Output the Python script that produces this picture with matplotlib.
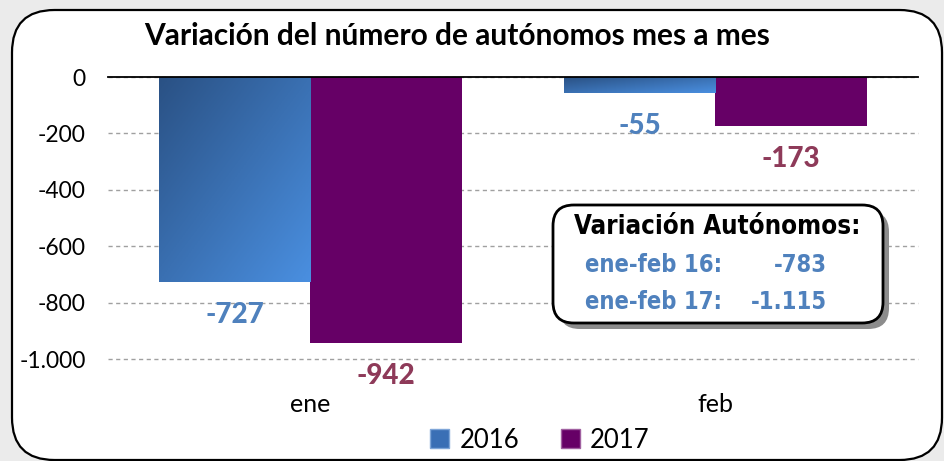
import matplotlib
matplotlib.use("Agg")
import matplotlib.pyplot as plt
import numpy as np
from matplotlib.patches import FancyBboxPatch, Patch
from matplotlib.colors import LinearSegmentedColormap

# ---- data ----
categories = ["ene", "feb"]
series_names = ["2016", "2017"]
values_2016 = [-727, -55]
values_2017 = [-942, -173]
label_2016 = ["-727", "-55"]
label_2017 = ["-942", "-173"]
yticks = [0, -200, -400, -600, -800, -1000]
ytick_labels = ["0", "-200", "-400", "-600", "-800", "-1.000"]
title = "Variación del número de autónomos mes a mes"
box_title = "Variación Autónomos:"
box_rows = [("ene-feb 16:", "-783"), ("ene-feb 17:", "-1.115")]

W, H = 945, 461
fig = plt.figure(figsize=(W / 100, H / 100), dpi=100, facecolor="#ebebeb")

def px(x, y):
    return (x / W, 1 - y / H)

# outer rounded frame
frame = FancyBboxPatch(px(12, 460), (942 - 12) / W, (460 - 10) / H,
                       boxstyle="round,pad=0,rounding_size=0.045",
                       transform=fig.transFigure, facecolor="white",
                       edgecolor="black", linewidth=1.6, mutation_aspect=W / H,
                       zorder=0)
fig.patches.append(frame)

ax = fig.add_axes([108 / W, 1 - 359 / H, (918 - 108) / W, (359 - 77) / H])
ax.set_zorder(2)
ax.set_facecolor("none")
for s in ax.spines.values():
    s.set_visible(False)
ax.set_yticks(yticks)
ax.set_yticklabels(ytick_labels, fontsize=16.5, fontfamily="Lato")
ax.tick_params(axis="y", length=0, pad=16)
ax.set_xticks([])
ax.yaxis.grid(True, color="#a0a0a0", linestyle=(0, (3, 2.5)), linewidth=1.0)
ax.set_axisbelow(True)

bw = 0.373
x = np.arange(len(categories))
grad = LinearSegmentedColormap.from_list("g", ["#2a5184", "#4a8fe0"])
bars16 = ax.bar(x - bw / 2, values_2016, width=bw, color="#3d72b8", zorder=3)
bars17 = ax.bar(x + bw / 2, values_2017, width=bw, color="#660066", zorder=3)

# gradient fill for 2016 bars
gx, gy = np.meshgrid(np.linspace(0, 1, 100), np.linspace(0, 1, 100))
for b in bars16:
    b.set_facecolor("none")
    x0, y0 = b.get_x(), b.get_y()
    w, h = b.get_width(), b.get_height()
    img = (gx + gy) / 2
    im = ax.imshow(img, cmap=grad, extent=[x0, x0 + w, y0 + h, y0],
                   origin="upper", aspect="auto", zorder=3)
    im.set_clip_path(b)
ax.set_xlim(-0.5, 1.5)
ax.set_ylim(-1000, 0)
ax.axhline(0, color="black", linewidth=1.3, zorder=5, clip_on=False)
for gl in ax.get_ygridlines():
    gl.set_clip_on(False)

for xi, v, t in zip(x, values_2016, label_2016):
    ax.annotate(t, (xi - bw / 2, v), xytext=(0, -33), textcoords="offset pixels",
                ha="center", va="center", fontsize=20, fontweight="black",
                fontfamily="Lato", color="#4f81bd", annotation_clip=False, zorder=6)
for xi, v, t in zip(x, values_2017, label_2017):
    ax.annotate(t, (xi + bw / 2, v), xytext=(0, -33), textcoords="offset pixels",
                ha="center", va="center", fontsize=20, fontweight="black",
                fontfamily="Lato", color="#8e3a59", annotation_clip=False, zorder=6)

# category labels
for xi, c in zip(x, categories):
    ax.text(xi, -0.16, c, transform=ax.get_xaxis_transform(), ha="center",
            va="center", fontsize=18, fontfamily="Lato")

# title
fig.text(*px(457, 36), title, ha="center", va="center", fontsize=21.5,
         fontweight="bold", fontfamily="Lato")

# text box with shadow
bx0, by0, bx1, by1 = 553, 205, 883, 323
shadow = FancyBboxPatch(px(bx0 + 6, by1 + 6), (bx1 - bx0) / W, (by1 - by0) / H,
                        boxstyle="round,pad=0,rounding_size=0.022",
                        transform=fig.transFigure, facecolor="#8c8c8c",
                        edgecolor="none", mutation_aspect=W / H, zorder=7)
box = FancyBboxPatch(px(bx0, by1), (bx1 - bx0) / W, (by1 - by0) / H,
                     boxstyle="round,pad=0,rounding_size=0.022",
                     transform=fig.transFigure, facecolor="white",
                     edgecolor="black", linewidth=2.0, mutation_aspect=W / H, zorder=8)
fig.patches.extend([shadow, box])
narrow = ["DejaVu Sans"]
fig.text(*px(717, 227), box_title, ha="center", va="center", fontsize=18.5,
         fontweight="bold", family=narrow, fontstretch="condensed", zorder=9)
for (lab, val), yy in zip(box_rows, [265, 302]):
    fig.text(*px(585, yy), lab, ha="left", va="center", fontsize=17,
             fontweight="bold", family=narrow, fontstretch="condensed",
             color="#4f81bd", zorder=9)
    fig.text(*px(827, yy), val, ha="right", va="center", fontsize=17,
             fontweight="bold", family=narrow, fontstretch="condensed",
             color="#4f81bd", zorder=9)

# legend
handles = [Patch(facecolor="#3a6fb5", edgecolor="#7fa6d8", label=series_names[0]),
           Patch(facecolor="#660066", edgecolor="#a060a0", label=series_names[1])]
fig.legend(handles=handles, loc="center", bbox_to_anchor=px(540, 440), ncol=2,
           frameon=False, prop={"family": "Lato", "size": 18.5},
           handlelength=0.75, handleheight=0.75, handletextpad=0.4,
           columnspacing=1.6)

fig.savefig("out.png", dpi=100, facecolor=fig.get_facecolor())
